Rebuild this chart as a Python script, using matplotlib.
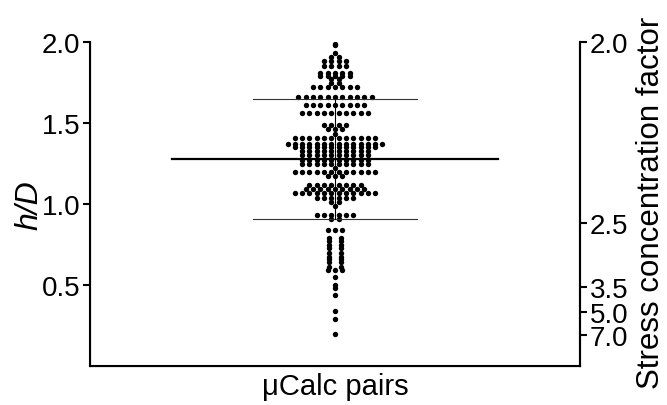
import numpy as np
import matplotlib
matplotlib.use('Agg')
from matplotlib import pyplot as plt

plt.rcParams['font.family'] = ['Liberation Sans', 'DejaVu Sans']

# h/D rows of the scatter (value, number of dots in that row)
row_hd = [1.99, 1.98, 1.93, 1.91, 1.88, 1.85, 1.81, 1.79, 1.77, 1.75,
          1.72, 1.66, 1.61, 1.56, 1.49, 1.46, 1.43, 1.41, 1.37, 1.35,
          1.33, 1.30, 1.27, 1.25, 1.22, 1.20, 1.17, 1.12, 1.09, 1.07,
          1.04, 1.01, 0.99, 0.93, 0.91, 0.84, 0.79, 0.77, 0.75, 0.73,
          0.70, 0.67, 0.66, 0.64, 0.61, 0.59, 0.55, 0.50, 0.48, 0.44,
          0.34, 0.29, 0.20]
row_count = [1, 1, 1, 2, 4, 4, 5, 5, 2, 2,
             7, 11, 9, 10, 4, 3, 1, 12, 14, 12,
             10, 10, 10, 10, 1, 12, 3, 8, 9, 12,
             6, 2, 1, 6, 2, 3, 2, 2, 2, 2,
             2, 2, 2, 2, 2, 3, 1, 1, 1, 1,
             1, 1, 1]

mean_hd = 1.28
sd_lines = [0.91, 1.65]

# right axis: stress concentration factor at h/D positions
scf_pos = [2.0, 0.88, 0.49, 0.335, 0.19]
scf_labels = ['2.0', '2.5', '3.5', '5.0', '7.0']

left_ticks = [0.5, 1.0, 1.5, 2.0]

fig = plt.figure(figsize=(6.67, 4.06), dpi=100)
ax = fig.add_axes([90/667, 39/406, 490/667, 324/406])

# rows centred on x = 0, small rows of two spread a bit like the original
step = 0.0298
xs, ys = [], []
for v, n in zip(row_hd, row_count):
    gap = step * 1.6 if (n == 2 and v < 0.9) else step
    for i in range(n):
        xs.append((i - (n - 1) / 2) * gap)
        ys.append(v)
ax.scatter(xs, ys, s=15, color='black', linewidths=0, zorder=3)

# mean and spread lines
ax.plot([-0.665, 0.665], [mean_hd, mean_hd], color='black', lw=1.6, zorder=4)
for s in sd_lines:
    ax.plot([-0.333, 0.333], [s, s], color='#333333', lw=0.8, zorder=4)
ax.plot([0, 0], sd_lines, color='black', lw=0.8, zorder=4)

ax.set_xlim(-1, 1)
ax.set_ylim(0, 2.0)
ax.set_yticks(left_ticks)
ax.set_yticklabels(['%.1f' % t for t in left_ticks])
ax.set_xticks([0])
ax.set_xticklabels(['μCalc pairs'], fontsize=21)
ax.tick_params(axis='x', length=0, pad=4)
ax.tick_params(axis='y', labelsize=20, width=1.5, length=5, pad=2)
ax.spines['top'].set_visible(False)
for sp in ['left', 'bottom', 'right']:
    ax.spines[sp].set_linewidth(1.5)
ax.set_ylabel('h/D', fontsize=23, style='italic', labelpad=-2)

ax2 = ax.twinx()
ax2.set_ylim(0, 2.0)
ax2.set_yticks(scf_pos)
ax2.set_yticklabels(scf_labels)
ax2.tick_params(axis='y', labelsize=20, width=1.5, length=5, pad=2)
ax2.spines['top'].set_visible(False)
ax2.spines['right'].set_linewidth(1.5)
fig.text(651/667, 0.5, 'Stress concentration factor', fontsize=22.5,
         rotation=90, ha='center', va='center')

fig.savefig('out.png', dpi=100)
